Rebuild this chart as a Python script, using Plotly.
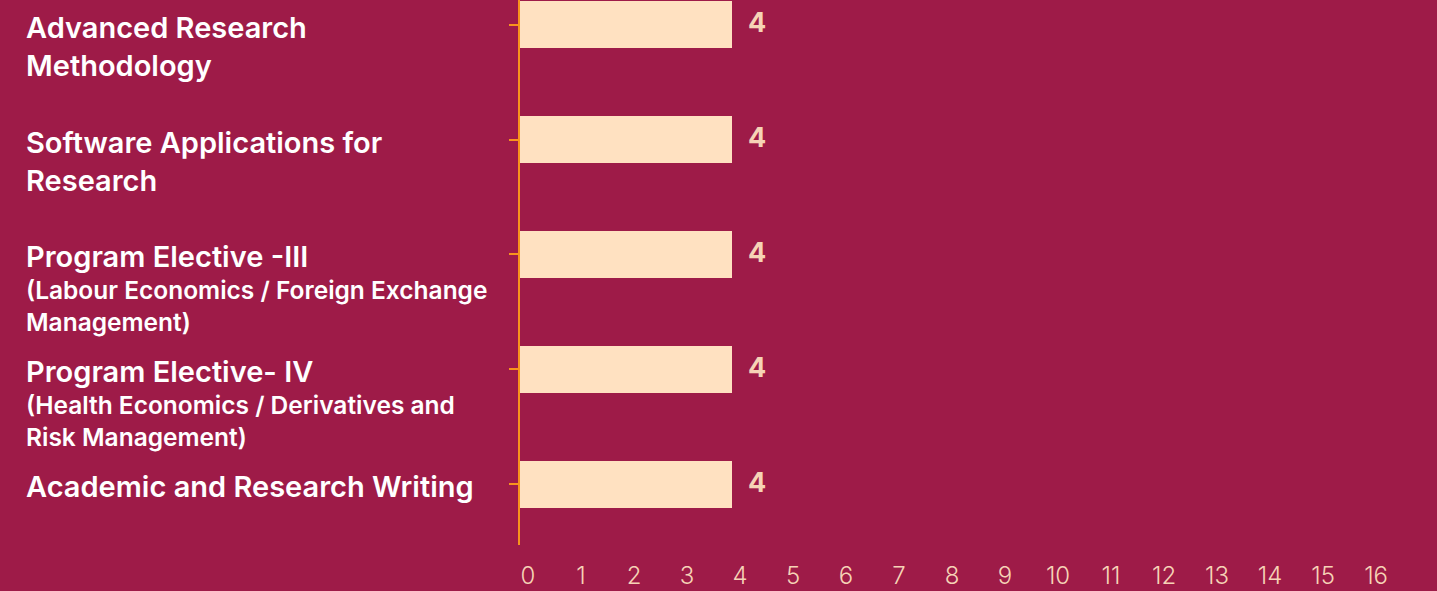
import plotly.graph_objects as go

# ---- data ----
course_titles = [
    "Advanced Research<br>Methodology",
    "Software Applications for<br>Research",
    "Program Elective -III",
    "Program Elective- IV",
    "Academic and Research Writing",
]
course_subtitles = [
    "",
    "",
    "(Labour Economics / Foreign Exchange<br>Management)",
    "(Health Economics / Derivatives and<br>Risk Management)",
    "",
]
credits = [4, 4, 4, 4, 4]
x_tick_values = list(range(0, 17))

# ---- styling ----
BG = "#9E1B48"
BAR = "#FFE1C1"
ORANGE = "#F7941D"
PEACH_TEXT = "#F6D3B6"
W, H = 1437, 591
ML, MR, MT, MB = 520, 0, 0, 46
plot_w = W - ML - MR

cats = list(range(len(course_titles)))

fig = go.Figure()
fig.add_trace(go.Bar(
    x=credits,
    y=cats,
    orientation="h",
    marker=dict(color=BAR, line=dict(width=0)),
    width=0.41,
    hoverinfo="skip",
))

label_x = -(ML - 24) / plot_w
annotations = []
for i, (t, s, v) in enumerate(zip(course_titles, course_subtitles, credits)):
    annotations.append(dict(
        x=label_x, xref="paper", y=i, yref="y",
        text=t, showarrow=False, xanchor="left", yanchor="top", align="left",
        yshift=17,
        font=dict(family="Inter, Roboto, sans-serif", size=29, color="#FFFFFF", weight=600),
    ))
    if s:
        annotations.append(dict(
            x=label_x, xref="paper", y=i, yref="y",
            text=s, showarrow=False, xanchor="left", yanchor="top", align="left",
            yshift=-19,
            font=dict(family="Inter, Roboto, sans-serif", size=24.5, color="#FFFFFF", weight=600),
        ))
    annotations.append(dict(
        x=v, xref="x", y=i, yref="y",
        text=str(v), showarrow=False, xanchor="left", yanchor="middle",
        xshift=14, yshift=2,
        font=dict(family="Inter, Roboto, sans-serif", size=27, color=PEACH_TEXT, weight=700),
    ))

fig.update_layout(
    width=W, height=H,
    margin=dict(l=ML, r=MR, t=MT, b=MB),
    paper_bgcolor=BG, plot_bgcolor=BG,
    showlegend=False,
    annotations=annotations,
    bargap=0,
)
fig.update_xaxes(
    range=[0, 17.3],
    tickvals=x_tick_values,
    ticktext=[str(v) for v in x_tick_values],
    showgrid=False, zeroline=False, showline=False, ticks="",
    tickfont=dict(family="Inter, Roboto, sans-serif", size=24, color=PEACH_TEXT, weight=300),
    ticklabelstandoff=14,
    ticklabelshift=8,
)
fig.update_yaxes(
    range=[4.53, -0.215],
    tickvals=cats,
    showticklabels=False,
    showgrid=False, zeroline=False,
    showline=True, linecolor=ORANGE, linewidth=2,
    ticks="outside", ticklen=9, tickwidth=2, tickcolor=ORANGE,
)

fig.write_html(
    "out.html",
    config={"displayModeBar": False},
    post_script="document.body.style.margin='0';document.body.style.background='#9E1B48';",
)
